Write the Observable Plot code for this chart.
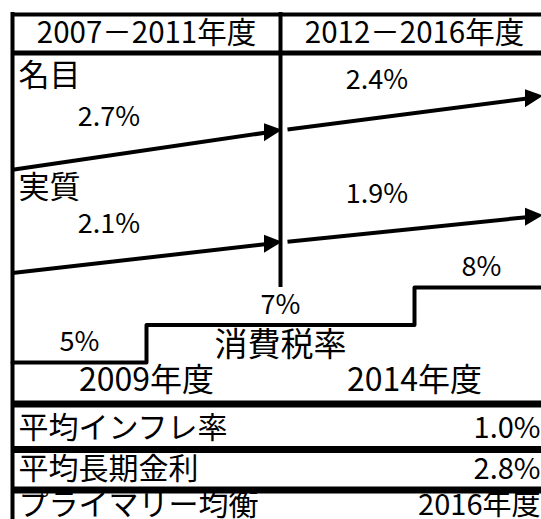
<!DOCTYPE html>
<html><head><meta charset="utf-8">
<script src="https://cdn.jsdelivr.net/npm/d3@7"></script>
<script src="https://cdn.jsdelivr.net/npm/@observablehq/plot@0.6"></script>
<style>
html,body{margin:0;padding:0;background:#fff;overflow:hidden}
#chart svg{display:block}
</style></head><body><div id="chart"></div>
<script>
// ---------------- data ----------------
const periodLabels = ["2007－2011年度", "2012－2016年度"];
const periodStarts = [2007, 2012];
const periodEnds = [2012, 2017];
const seriesNames = ["名目", "実質"];
const nominalGrowth = [2.7, 2.4];
const realGrowth = [2.1, 1.9];
const taxTitle = "消費税率";
const taxRates = [5, 7, 8];
const taxChangeYears = [2009, 2014];
const assumptionNames = ["平均インフレ率", "平均長期金利", "プライマリー均衡"];
const assumptionValues = ["1.0%", "2.8%", "2016年度"];

// ---------------- layout ----------------
const W = 541, H = 519;
const FONT = "'Noto Sans CJK JP', 'Noto Sans', sans-serif";
const X = d3.scaleLinear().domain([2007, 2017]).range([12, 548]);
const seriesGrowth = [nominalGrowth, realGrowth];
const seriesRowTop = [55, 167];
const K = 2.9;          // px per %-year of growth
const anchorOff = 75;   // level at period boundary, below row top
const headLen = 18, headHalf = 9;
const dividerBottom = 287;
const taxBase = 362, taxStep = 37.5;
const taxTitleY = 345, taxYearY = 380;
const assumptionY = [428, 469, 505];

// ---------------- derived marks data ----------------
const boundary = periodStarts[1];
const segs = [], heads = [], rateLabels = [], seriesLabels = [];
seriesGrowth.forEach((g, s) => {
  const anchor = seriesRowTop[s] + anchorOff;
  const level = yr => yr < boundary ? anchor + K * g[0] * (boundary - yr) : anchor - K * g[1] * (yr - boundary);
  seriesLabels.push({name: seriesNames[s], x: periodStarts[0], y: seriesRowTop[s] + 21});
  const pieces = [
    {x1: periodStarts[0], tipPx: X(boundary) + 2},
    {x1: X.invert(X(boundary) + 7), tipPx: W + 2}
  ];
  pieces.forEach((p, i) => {
    const tip = X.invert(p.tipPx);
    const base = X.invert(p.tipPx - headLen);
    const lineEnd = X.invert(p.tipPx - headLen / 2);
    segs.push({x1: p.x1, y1: level(p.x1), x2: lineEnd, y2: level(lineEnd)});
    const id = s + "-" + i;
    heads.push({id, x: base, y1: level(base) - headHalf, y2: level(base) + headHalf});
    heads.push({id, x: tip, y1: level(tip), y2: level(tip)});
    const lx = periodStarts[i] + 1.8;
    rateLabels.push({text: g[i].toFixed(1) + "%", x: lx, y: level(lx) - 38});
  });
});

const taxStepX = taxChangeYears.map(y => y + 0.5);
const taxEdges = [periodStarts[0], ...taxStepX, periodEnds[1]];
const taxPts = [];
taxRates.forEach((r, i) => taxPts.push({x: taxEdges[i], y: taxBase - i * taxStep}));
taxPts.push({x: taxEdges[taxEdges.length - 1], y: taxBase - (taxRates.length - 1) * taxStep});
const taxLabels = taxRates.map((r, i) => ({
  text: r + "%", x: (taxEdges[i] + taxEdges[i + 1]) / 2, y: taxBase - i * taxStep - 20
}));
const taxYearLabels = taxChangeYears.map((yr, i) => ({text: yr + "年度", x: taxStepX[i], y: taxYearY}));

const hBands = [{y: 14, w: 4}, {y: 52.5, w: 5}, {y: 403.5, w: 7}, {y: 449, w: 7}, {y: 489.5, w: 7}]
  .map(b => ({...b, x1: periodStarts[0], x2: periodEnds[1]}));
const vRules = [
  {x: periodStarts[0], y1: 12, y2: H},
  {x: boundary, y1: 12, y2: dividerBottom}
];
const headerData = periodLabels.map((t, i) => ({text: t, x: (periodStarts[i] + periodEnds[i]) / 2, y: 33}));
const titleData = [{text: taxTitle, x: boundary, y: taxTitleY}];
const nameData = assumptionNames.map((t, i) => ({text: t, x: periodStarts[0], y: assumptionY[i]}));
const valueData = assumptionValues.map((t, i) => ({text: t, x: periodEnds[1], y: assumptionY[i]}));

const plot = Plot.plot({
  width: W, height: H,
  margin: 0,
  x: {domain: [2007, 2017], range: [12, 548], axis: null},
  y: {domain: [0, H], range: [0, H], axis: null},
  style: {fontFamily: FONT, background: "white"},
  marks: [
    ...hBands.map(b => Plot.ruleY([b], {y: "y", x1: "x1", x2: "x2", stroke: "black", strokeWidth: b.w})),
    Plot.ruleX(vRules, {x: "x", y1: "y1", y2: "y2", stroke: "black", strokeWidth: 4}),
    Plot.link(segs, {x1: "x1", y1: "y1", x2: "x2", y2: "y2", stroke: "black", strokeWidth: 4}),
    Plot.areaY(heads, {x: "x", y1: "y1", y2: "y2", z: "id", fill: "black", curve: "linear"}),
    Plot.line(taxPts, {x: "x", y: "y", curve: "step-after", stroke: "black", strokeWidth: 4}),
    Plot.text(headerData, {x: "x", y: "y", text: "text", fontSize: 29.5, fill: "black"}),
    Plot.text(seriesLabels, {x: "x", y: "y", text: "name", dx: 6, textAnchor: "start", fontSize: 31, fill: "black"}),
    Plot.text(rateLabels, {x: "x", y: "y", text: "text", fontSize: 27, fill: "black"}),
    Plot.text(taxLabels, {x: "x", y: "y", text: "text", fontSize: 27, fill: "black"}),
    Plot.text(titleData, {x: "x", y: "y", text: "text", fontSize: 33, fill: "black"}),
    Plot.text(taxYearLabels, {x: "x", y: "y", text: "text", fontSize: 32, fill: "black"}),
    Plot.text(nameData, {x: "x", y: "y", text: "text", dx: 6, textAnchor: "start", fontSize: 30, fill: "black"}),
    Plot.text(valueData, {x: "x", y: "y", text: "text", dx: -8, textAnchor: "end", fontSize: 29, fill: "black"})
  ]
});
document.getElementById("chart").appendChild(plot);
</script></body></html>
